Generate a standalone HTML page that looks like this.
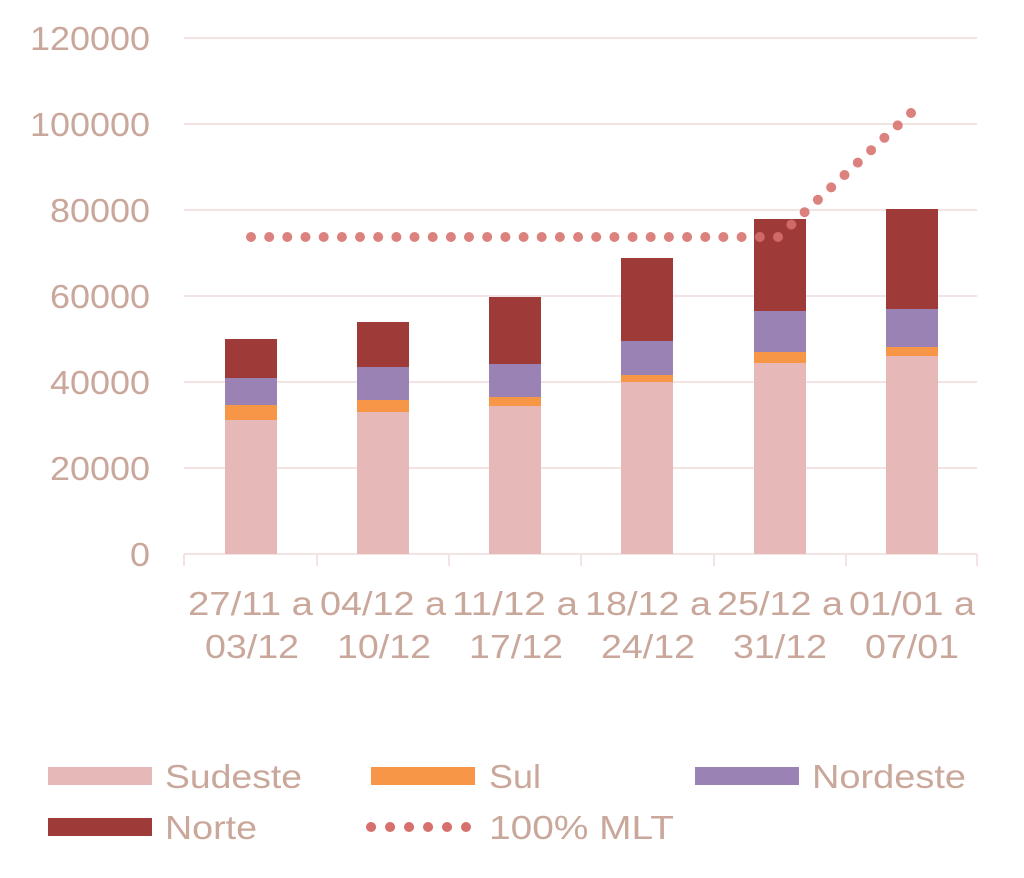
<!DOCTYPE html>
<html><head><meta charset="utf-8"><style>
html,body{margin:0;padding:0;background:#fff;}
svg{display:block;}
text{font-family:"Liberation Sans",sans-serif;fill:#c9a79b;}
</style></head><body>
<svg width="1024" height="878" viewBox="0 0 1024 878">
<g stroke="#f2e4e3" stroke-width="2">
<line x1="184" y1="38" x2="977" y2="38"/>
<line x1="184" y1="124" x2="977" y2="124"/>
<line x1="184" y1="210" x2="977" y2="210"/>
<line x1="184" y1="296" x2="977" y2="296"/>
<line x1="184" y1="382" x2="977" y2="382"/>
<line x1="184" y1="468" x2="977" y2="468"/>
<line x1="184" y1="554" x2="977" y2="554"/>
<line x1="184" y1="554" x2="184" y2="566"/>
<line x1="317" y1="554" x2="317" y2="566"/>
<line x1="449" y1="554" x2="449" y2="566"/>
<line x1="581" y1="554" x2="581" y2="566"/>
<line x1="714" y1="554" x2="714" y2="566"/>
<line x1="846" y1="554" x2="846" y2="566"/>
<line x1="977" y1="554" x2="977" y2="566"/>
</g>
<g font-size="33">
<text x="30" y="50" textLength="120" lengthAdjust="spacingAndGlyphs">120000</text>
<text x="30" y="136" textLength="120" lengthAdjust="spacingAndGlyphs">100000</text>
<text x="50" y="222" textLength="100" lengthAdjust="spacingAndGlyphs">80000</text>
<text x="50" y="308" textLength="100" lengthAdjust="spacingAndGlyphs">60000</text>
<text x="50" y="394" textLength="100" lengthAdjust="spacingAndGlyphs">40000</text>
<text x="50" y="480" textLength="100" lengthAdjust="spacingAndGlyphs">20000</text>
<text x="130" y="566" textLength="20" lengthAdjust="spacingAndGlyphs">0</text>
</g>
<g>
<rect x="225" y="420" width="52" height="134" fill="#e6b8b7"/>
<rect x="225" y="405" width="52" height="15" fill="#f79646"/>
<rect x="225" y="378" width="52" height="27" fill="#9a83b4"/>
<rect x="225" y="339" width="52" height="39" fill="#9e3a38"/>

<rect x="357" y="412" width="52" height="142" fill="#e6b8b7"/>
<rect x="357" y="400" width="52" height="12" fill="#f79646"/>
<rect x="357" y="367" width="52" height="33" fill="#9a83b4"/>
<rect x="357" y="322" width="52" height="45" fill="#9e3a38"/>

<rect x="489" y="406" width="52" height="148" fill="#e6b8b7"/>
<rect x="489" y="397" width="52" height="9" fill="#f79646"/>
<rect x="489" y="364" width="52" height="33" fill="#9a83b4"/>
<rect x="489" y="297" width="52" height="67" fill="#9e3a38"/>

<rect x="621" y="382" width="52" height="172" fill="#e6b8b7"/>
<rect x="621" y="375" width="52" height="7" fill="#f79646"/>
<rect x="621" y="341" width="52" height="34" fill="#9a83b4"/>
<rect x="621" y="258" width="52" height="83" fill="#9e3a38"/>

<rect x="754" y="363" width="52" height="191" fill="#e6b8b7"/>
<rect x="754" y="352" width="52" height="11" fill="#f79646"/>
<rect x="754" y="311" width="52" height="41" fill="#9a83b4"/>
<rect x="754" y="219" width="52" height="92" fill="#9e3a38"/>

<rect x="886" y="356" width="52" height="198" fill="#e6b8b7"/>
<rect x="886" y="347" width="52" height="9" fill="#f79646"/>
<rect x="886" y="309" width="52" height="38" fill="#9a83b4"/>
<rect x="886" y="209" width="52" height="100" fill="#9e3a38"/>
</g>
<g fill="#d6706c" fill-opacity="0.88">
<circle cx="251" cy="237" r="5"/><circle cx="269.2" cy="237" r="5"/><circle cx="287.3" cy="237" r="5"/><circle cx="305.5" cy="237" r="5"/><circle cx="323.7" cy="237" r="5"/><circle cx="341.9" cy="237" r="5"/><circle cx="360" cy="237" r="5"/><circle cx="378.2" cy="237" r="5"/><circle cx="396.4" cy="237" r="5"/><circle cx="414.5" cy="237" r="5"/><circle cx="432.7" cy="237" r="5"/><circle cx="450.9" cy="237" r="5"/><circle cx="469" cy="237" r="5"/><circle cx="487.2" cy="237" r="5"/><circle cx="505.4" cy="237" r="5"/><circle cx="523.6" cy="237" r="5"/><circle cx="541.7" cy="237" r="5"/><circle cx="559.9" cy="237" r="5"/><circle cx="578.1" cy="237" r="5"/><circle cx="596.2" cy="237" r="5"/><circle cx="614.4" cy="237" r="5"/><circle cx="632.6" cy="237" r="5"/><circle cx="650.7" cy="237" r="5"/><circle cx="668.9" cy="237" r="5"/><circle cx="687.1" cy="237" r="5"/><circle cx="705.3" cy="237" r="5"/><circle cx="723.4" cy="237" r="5"/><circle cx="741.6" cy="237" r="5"/><circle cx="759.8" cy="237" r="5"/><circle cx="778" cy="237" r="5"/>
<circle cx="791.3" cy="224.6" r="5"/><circle cx="804.6" cy="212.2" r="5"/><circle cx="817.9" cy="199.8" r="5"/><circle cx="831.2" cy="187.4" r="5"/><circle cx="844.5" cy="175" r="5"/><circle cx="857.8" cy="162.6" r="5"/><circle cx="871.1" cy="150.2" r="5"/><circle cx="884.4" cy="137.8" r="5"/><circle cx="897.7" cy="125.4" r="5"/><circle cx="911" cy="113" r="5"/>
</g>
<g font-size="33">
<text x="188" y="615" textLength="125" lengthAdjust="spacingAndGlyphs">27/11 a</text><text x="205" y="658" textLength="94" lengthAdjust="spacingAndGlyphs">03/12</text>
<text x="320" y="615" textLength="126" lengthAdjust="spacingAndGlyphs">04/12 a</text><text x="337" y="658" textLength="94" lengthAdjust="spacingAndGlyphs">10/12</text>
<text x="452" y="615" textLength="126" lengthAdjust="spacingAndGlyphs">11/12 a</text><text x="469" y="658" textLength="94" lengthAdjust="spacingAndGlyphs">17/12</text>
<text x="585" y="615" textLength="126" lengthAdjust="spacingAndGlyphs">18/12 a</text><text x="601" y="658" textLength="94" lengthAdjust="spacingAndGlyphs">24/12</text>
<text x="717" y="615" textLength="126" lengthAdjust="spacingAndGlyphs">25/12 a</text><text x="733" y="658" textLength="94" lengthAdjust="spacingAndGlyphs">31/12</text>
<text x="849" y="615" textLength="126" lengthAdjust="spacingAndGlyphs">01/01 a</text><text x="865" y="658" textLength="94" lengthAdjust="spacingAndGlyphs">07/01</text>
</g>
<g font-size="33">
<rect x="48" y="767" width="104" height="18" fill="#e6b8b7"/>
<text x="165" y="788" textLength="137" lengthAdjust="spacingAndGlyphs">Sudeste</text>
<rect x="371" y="767" width="104" height="18" fill="#f79646"/>
<text x="489" y="788" textLength="52" lengthAdjust="spacingAndGlyphs">Sul</text>
<rect x="695" y="767" width="104" height="18" fill="#9a83b4"/>
<text x="812" y="788" textLength="154" lengthAdjust="spacingAndGlyphs">Nordeste</text>
<rect x="48" y="818" width="104" height="18" fill="#9e3a38"/>
<text x="165" y="839" textLength="92" lengthAdjust="spacingAndGlyphs">Norte</text>
<line x1="371" y1="827" x2="466" y2="827" stroke="#d6706c" stroke-width="10" stroke-linecap="round" stroke-dasharray="0.1 18.9"/>
<text x="489" y="839" textLength="185" lengthAdjust="spacingAndGlyphs">100% MLT</text>
</g>
</svg>
</body></html>
